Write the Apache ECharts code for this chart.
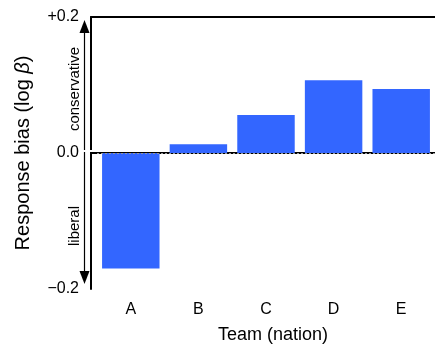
<!DOCTYPE html>
<html>
<head>
<meta charset="utf-8">
<script src="https://cdn.jsdelivr.net/npm/echarts@6/dist/echarts.min.js"></script>
<style>
  html, body { margin: 0; padding: 0; background: #fff; }
  #chart { width: 435px; height: 352px; }
</style>
</head>
<body>
<div id="chart"></div>
<script>
// Response bias per team
const teams = ['A', 'B', 'C', 'D', 'E'];
const bias = [-0.17, 0.013, 0.056, 0.107, 0.094];
const yTicks = { '0.2': '+0.2', '0': '0.0', '-0.2': '\u22120.2' };

const FONT = 'Liberation Sans, Arial, sans-serif';
const chart = echarts.init(document.getElementById('chart'), null, { renderer: 'canvas' });

chart.setOption({
  animation: false,
  backgroundColor: '#fff',
  textStyle: { fontFamily: FONT },
  grid: [
    // data grid (bars)
    { left: 97, right: -1, top: 17, bottom: 63 },
    // frame grid (axis lines, ticks)
    { left: 91, right: 0, top: 17, bottom: 63 }
  ],
  xAxis: [
    {
      gridIndex: 0, type: 'category', data: teams,
      axisLine: { show: false }, axisTick: { show: false },
      axisLabel: { color: '#000', fontSize: 16, margin: 13, fontFamily: FONT },
      name: 'Team (nation)', nameLocation: 'middle', nameGap: 37,
      nameTextStyle: { color: '#000', fontSize: 18, fontFamily: FONT, padding: [0, 0, 0, 14] }
    },
    {
      gridIndex: 1, type: 'value', position: 'bottom', min: 0, max: 1,
      axisLine: { show: true, lineStyle: { color: '#000', width: 2 } },
      axisTick: { show: false }, axisLabel: { show: false }, splitLine: { show: false }
    },
    {
      gridIndex: 1, type: 'value', position: 'top', min: 0, max: 1,
      axisLine: { show: true, lineStyle: { color: '#000', width: 2 } },
      axisTick: { show: false }, axisLabel: { show: false }, splitLine: { show: false }
    }
  ],
  yAxis: [
    {
      gridIndex: 0, type: 'value', min: -0.2, max: 0.2, show: false
    },
    {
      gridIndex: 1, type: 'value', min: -0.2, max: 0.2, interval: 0.2,
      axisLine: { show: true, onZero: false, lineStyle: { color: '#000', width: 2 } },
      axisTick: { show: false }, splitLine: { show: false },
      axisLabel: {
        color: '#000', fontSize: 16, margin: 12, fontFamily: FONT,
        formatter: v => yTicks[String(Math.round(v * 10) / 10)] ?? v
      },
      name: 'Response bias (log {i|\u03B2})', nameLocation: 'middle', nameGap: 58, nameRotate: 90,
      nameTextStyle: {
        color: '#000', fontSize: 20, fontFamily: FONT,
        rich: { i: { fontStyle: 'italic', fontSize: 20, color: '#000', fontFamily: FONT } }
      }
    }
  ],
  series: [{
    type: 'bar', xAxisIndex: 0, yAxisIndex: 0,
    data: bias,
    barCategoryGap: '15%',
    itemStyle: { color: '#3366ff' },
    markLine: {
      silent: true, symbol: 'none', label: { show: false },
      lineStyle: { color: '#999', type: [2, 2], width: 1 },
      data: [{ yAxis: 0 }]
    },
    z: 2
  }]
});

// Direction annotation: double-headed arrow with labels left of the axis
const yTop = chart.convertToPixel({ yAxisIndex: 1 }, 0.2);
const yBot = chart.convertToPixel({ yAxisIndex: 1 }, -0.2);
const yZero = chart.convertToPixel({ yAxisIndex: 1 }, 0);
const yUp = chart.convertToPixel({ yAxisIndex: 1 }, 0.1);
const yDown = chart.convertToPixel({ yAxisIndex: 1 }, -0.1);
const ax = 84.5;
const tipTop = yTop + 3, tipBot = yBot - 5;
const headH = 13, headW = 5;

chart.setOption({
  graphic: [
    { type: 'line', shape: { x1: ax, y1: tipTop + headH - 1, x2: ax, y2: tipBot - headH + 1 },
      style: { stroke: '#000', lineWidth: 1.2 } },
    { type: 'polygon', shape: { points: [[ax, tipTop], [ax - headW, tipTop + headH], [ax + headW, tipTop + headH]] },
      style: { fill: '#000' } },
    { type: 'polygon', shape: { points: [[ax, tipBot], [ax - headW, tipBot - headH], [ax + headW, tipBot - headH]] },
      style: { fill: '#000' } },
    // small break in the vertical lines beside the 0.0 label
    { type: 'rect', shape: { x: 82, y: yZero - 3, width: 11, height: 2 },
      style: { fill: '#fff' }, z: 100 },
    { type: 'text', x: 75, y: yUp + 4, rotation: Math.PI / 2,
      style: { text: 'conservative', fill: '#000', fontSize: 15, fontFamily: FONT, align: 'center', verticalAlign: 'middle' } },
    { type: 'text', x: 75, y: yDown + 5, rotation: Math.PI / 2,
      style: { text: 'liberal', fill: '#000', fontSize: 15, fontFamily: FONT, align: 'center', verticalAlign: 'middle' } }
  ]
});
</script>
</body>
</html>
